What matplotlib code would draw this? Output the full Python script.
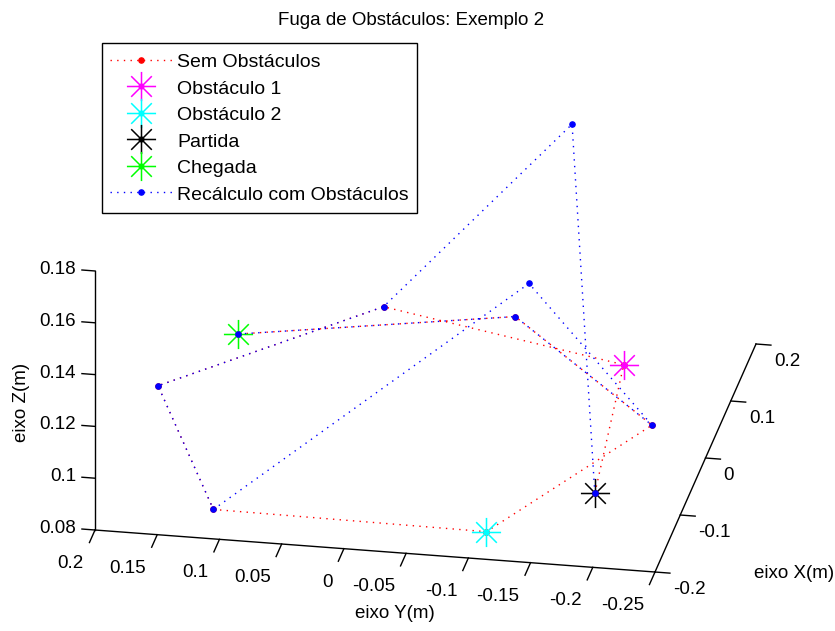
import numpy as np
import matplotlib
matplotlib.use('Agg')
import matplotlib.pyplot as plt
from matplotlib.path import Path
from mpl_toolkits.mplot3d import proj3d

plt.rcParams['font.family'] = ['Liberation Sans', 'DejaVu Sans']
plt.rcParams['font.size'] = 13.5

# trajetoria sem obstaculos: partida, obst1, A, B, C, obst2, D, E, chegada
x_sem = [-0.118, -0.028, -0.048, -0.123, -0.150, -0.153, 0.005, 0.040, -0.113]
y_sem = [-0.185, -0.190, -0.001, 0.165, 0.115, -0.105, -0.206, -0.089, 0.103]
z_sem = [0.090, 0.120, 0.140, 0.120, 0.080, 0.080, 0.090, 0.120, 0.140]

# trajetoria recalculada com obstaculos
x_rec = [-0.118, 0.132, -0.048, -0.123, -0.150, -0.078, 0.005, 0.040, -0.113]
y_rec = [-0.185, -0.116, -0.001, 0.165, 0.115, -0.124, -0.206, -0.089, 0.103]
z_rec = [0.090, 0.175, 0.140, 0.120, 0.080, 0.160, 0.090, 0.120, 0.140]

obst1 = (-0.028, -0.190, 0.120)
obst2 = (-0.153, -0.105, 0.080)
partida = (x_sem[0], y_sem[0], z_sem[0])
chegada = (x_sem[-1], y_sem[-1], z_sem[-1])

x_lim = (-0.2, 0.2)
y_lim = (-0.25, 0.2)
z_lim = (0.08, 0.18)
x_ticks = [-0.2, -0.1, 0, 0.1, 0.2]
y_ticks = [0.2, 0.15, 0.1, 0.05, 0, -0.05, -0.1, -0.15, -0.2, -0.25]
z_ticks = [0.08, 0.1, 0.12, 0.14, 0.16, 0.18]
x_labels = ['-0.2', '-0.1', '0', '0.1', '0.2']
y_labels = ['0.2', '0.15', '0.1', '0.05', '0', '-0.05', '-0.1', '-0.15', '-0.2', '-0.25']
z_labels = ['0.08', '0.1', '0.12', '0.14', '0.16', '0.18']

W, H = 835, 631
fig = plt.figure(figsize=(W / 100, H / 100), dpi=100)
ax = fig.add_axes([0.1, 0.1, 0.6, 0.6 * W / H], projection='3d')
ax.set_proj_type('ortho')
ax.view_init(elev=24.3, azim=-169.67)
ax.set_box_aspect((563.2, 569.2, 284.2))
ax.set_xlim(*x_lim)
ax.set_ylim(*y_lim)
ax.set_zlim(*z_lim)
ax.set_axis_off()
ax.computed_zorder = False

# marcador asterisco do matlab (8 bracos + ponto central)
vs, cs = [], []
for a in np.arange(8) * np.pi / 4:
    vs += [(0, 0), (np.cos(a), np.sin(a))]
    cs += [Path.MOVETO, Path.LINETO]
estrela = Path.make_compound_path(Path(vs, cs), Path.circle((0, 0), 0.15))

pontilhado = (0, (1, 3.8))
h1, = ax.plot(x_sem, y_sem, z_sem, color='r', ls=pontilhado, lw=1, marker='.', ms=7.5)
h2, = ax.plot(*[[v] for v in obst1], ls='none', marker=estrela, ms=21, mew=1.1,
              color=(1, 0, 1))
h3, = ax.plot(*[[v] for v in obst2], ls='none', marker=estrela, ms=21, mew=1.1,
              color=(0, 1, 1))
h4, = ax.plot(*[[v] for v in partida], ls='none', marker=estrela, ms=21, mew=1.1,
              color='k')
h5, = ax.plot(*[[v] for v in chegada], ls='none', marker=estrela, ms=21, mew=1.1,
              color=(0, 1, 0))
h6, = ax.plot(x_rec, y_rec, z_rec, color='b', ls=pontilhado, lw=1, marker='.', ms=7.5)

# eixos desenhados no estilo do matlab
ax.plot([x_lim[0]] * 2, [y_lim[1]] * 2, z_lim, color='k', lw=1)
ax.plot([x_lim[0]] * 2, [y_lim[1], y_lim[0]], [z_lim[0]] * 2, color='k', lw=1)
ax.plot(x_lim, [y_lim[0]] * 2, [z_lim[0]] * 2, color='k', lw=1)

for t in z_ticks:
    ax.plot([x_lim[0]] * 2, [y_lim[1], y_lim[1] + 0.0105], [t, t], color='k', lw=1)
for t in y_ticks:
    ax.plot([x_lim[0], x_lim[0] - 0.022], [t, t], [z_lim[0]] * 2, color='k', lw=1)
for t in x_ticks:
    ax.plot([t, t], [y_lim[0], y_lim[0] - 0.012], [z_lim[0]] * 2, color='k', lw=1)


def proj_px(x, y, z):
    xs, ys, _ = proj3d.proj_transform(x, y, z, ax.get_proj())
    return ax.transData.transform((xs, ys))


def ajusta():
    fig.canvas.draw()
    cantos = [(x_lim[0], y_lim[1], z_lim[0]), (x_lim[0], y_lim[0], z_lim[0]),
              (x_lim[1], y_lim[0], z_lim[0]), (x_lim[0], y_lim[1], z_lim[1])]
    alvo = np.array([(95, 530), (655, 572), (756, 344), (95, 271)], float)
    alvo[:, 1] = H - alvo[:, 1]
    p = np.array([proj_px(*c) for c in cantos])
    bb = ax.get_position().transformed(fig.transFigure)
    org = np.array([bb.x0, bb.y0])
    pm, tm = p.mean(0), alvo.mean(0)
    s = np.sum((p - pm) * (alvo - tm)) / np.sum((p - pm) ** 2)
    org_n = np.mean(alvo - s * (p - org), axis=0)
    lado = s * bb.width
    ax.set_position([org_n[0] / W, org_n[1] / H, lado / W, lado / H])


ajusta()
ajusta()
fig.canvas.draw()


def rotulo(x, y, z, s, **kw):
    px, py = proj_px(x, y, z)
    fig.text(px / W, py / H, s, **kw)


for t, s in zip(z_ticks, z_labels):
    rotulo(x_lim[0], y_lim[1] + 0.0153, t, s, ha='right', va='center')
for t, s in zip(y_ticks, y_labels):
    rotulo(x_lim[0] - 0.044, t, z_lim[0], s, ha='right', va='top')
for t, s in zip(x_ticks, x_labels):
    rotulo(t, y_lim[0] - 0.0145, z_lim[0] - 0.0062, s, ha='left', va='center')

fig.text(411 / W, 1 - 25 / H, 'Fuga de Obstáculos: Exemplo 2', ha='center', va='baseline')
fig.text(22 / W, 1 - 402 / H, 'eixo Z(m)', rotation=90, ha='center', va='center')
fig.text(395 / W, 1 - 613 / H, 'eixo Y(m)', ha='center', va='center')
fig.text(794 / W, 1 - 573 / H, 'eixo X(m)', ha='center', va='center')

leg = fig.legend([h1, h2, h3, h4, h5, h6],
                 ['Sem Obstáculos', 'Obstáculo 1', 'Obstáculo 2', 'Partida',
                  'Chegada', 'Recálculo com Obstáculos'],
                 loc='upper left', bbox_to_anchor=(101.7 / W, 1 - 43.3 / H),
                 borderaxespad=0, fancybox=False, edgecolor='k', framealpha=1,
                 numpoints=1, handlelength=3.17, handletextpad=0.26,
                 handleheight=1.0, labelspacing=0.37, borderpad=0.44, fontsize=14)
leg.get_frame().set_linewidth(1.0)

fig.savefig('out.png', dpi=100)
